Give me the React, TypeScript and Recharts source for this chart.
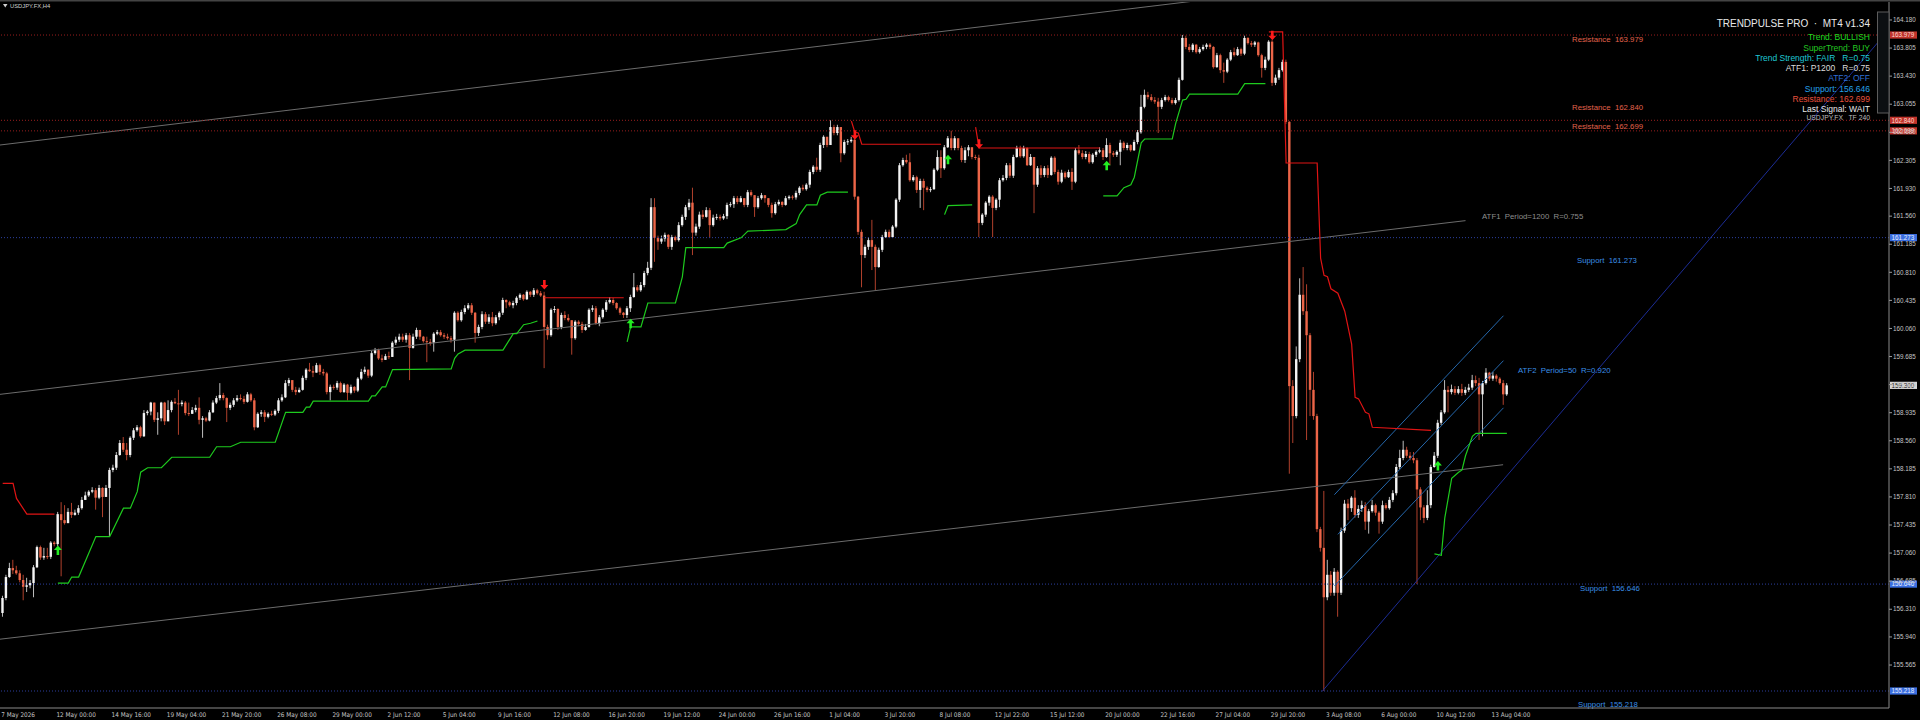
import React from 'react';
import { ComposedChart, Bar, Line, XAxis, YAxis, ReferenceLine, Scatter } from 'recharts';

// ---------------- DATA ----------------
const OPEN0 = 156.26;

const closes = [
156.46,156.74,156.86,156.83,156.79,156.70,156.61,156.63,156.66,156.87,
157.14,157.00,157.02,157.01,157.20,157.18,157.58,157.50,157.46,157.61,
157.57,157.60,157.66,157.77,157.83,157.88,157.90,157.80,157.93,157.81,
157.93,158.17,158.20,158.37,158.53,158.44,158.37,158.60,158.70,158.74,
158.62,158.93,158.95,159.07,158.84,158.86,159.07,158.82,158.97,159.08,
159.06,159.05,159.07,158.93,158.92,158.97,159.00,158.84,158.86,158.83,
158.94,159.07,159.13,159.17,159.13,159.00,159.04,159.10,159.13,159.12,
159.08,159.18,159.10,
158.74,158.92,158.94,158.88,158.92,158.91,158.96,159.10,159.14,159.33,
159.37,159.24,159.21,159.24,159.40,159.51,159.49,159.47,159.57,159.48,
159.46,159.21,159.28,159.27,159.33,159.21,159.31,159.20,159.28,159.23,
159.39,159.48,159.51,159.43,159.73,159.77,159.66,159.64,159.69,159.68,
159.87,159.91,159.95,159.91,159.97,159.80,159.95,160.04,159.95,159.89,
159.88,159.87,159.99,160.01,159.97,159.95,159.93,159.91,160.27,160.17,
160.28,160.33,160.37,160.27,160.00,160.08,160.25,160.15,160.21,160.13,
160.21,160.27,160.44,
160.41,160.37,160.40,160.47,160.51,160.45,160.55,160.51,160.57,160.53,
160.50,160.08,159.97,160.31,160.32,160.08,160.24,160.20,160.17,159.93,
160.15,160.12,160.04,160.08,160.31,160.33,160.13,160.21,160.31,160.41,
160.44,160.40,160.33,160.27,160.24,160.33,160.48,160.61,160.57,160.64,
160.80,160.87,161.68,161.27,161.22,161.26,161.31,161.15,161.28,161.24,
161.44,161.55,161.68,161.74,161.34,161.42,161.58,161.55,161.64,161.44,
161.54,161.55,161.53,161.56,161.71,161.72,161.80,161.75,161.80,161.71,
161.88,161.84,161.68,161.80,161.84,
161.80,161.71,161.60,161.72,161.75,161.71,161.80,161.82,161.81,161.87,
161.94,161.92,161.98,162.15,162.22,162.18,162.51,162.62,162.51,162.75,
162.67,162.75,162.40,162.55,162.56,162.58,161.82,161.35,161.04,161.15,
161.24,161.15,160.88,161.11,161.28,161.35,161.28,161.42,161.78,162.24,
162.31,162.28,162.04,162.08,161.91,162.03,161.94,161.91,161.92,162.18,
162.35,162.20,162.48,162.60,162.47,162.60,162.47,162.31,162.44,162.48,
162.35,162.34,161.47,161.58,161.74,161.82,161.67,161.78,162.04,162.07,
162.24,162.10,162.35,
162.47,162.36,162.47,162.24,162.35,161.98,162.20,162.11,162.20,162.11,
162.34,162.15,162.02,162.14,162.08,162.15,162.02,162.44,162.40,162.35,
162.39,162.28,162.38,162.42,162.44,162.35,162.51,162.40,162.38,162.42,
162.54,162.47,162.51,162.44,162.55,162.68,163.02,163.18,163.15,163.11,
163.09,163.02,163.11,163.15,163.11,163.07,163.11,163.38,163.94,163.82,
163.78,163.85,163.75,163.79,163.82,163.85,163.82,163.55,163.71,163.51,
163.49,163.65,163.75,163.71,163.79,163.73,163.94,163.87,163.85,163.88,
163.71,163.54,163.65,163.89,163.34,163.41,163.51,163.62,162.82,159.29,
158.89,159.65,160.51,160.29,159.97,159.24,158.89,157.38,157.13,156.47,
156.77,156.53,156.81,156.53,157.36,157.72,157.66,157.80,157.57,157.65,
157.70,157.48,157.62,157.70,157.60,157.48,157.70,157.66,157.77,157.86,
158.21,158.33,158.44,158.36,158.33,158.30,157.91,157.67,157.53,157.70,
158.21,158.36,158.80,158.94,159.24,159.21,159.25,159.20,159.25,159.20,
159.24,159.27,159.37,159.33,159.18,159.33,159.47,159.39,159.43,159.39,
159.33,159.18,159.30
];

const highs = [
156.49,156.77,156.93,156.97,156.89,156.83,156.77,156.73,156.70,156.90,
157.16,157.16,157.13,157.13,157.22,157.22,157.61,157.74,157.70,157.66,
157.73,157.64,157.70,157.81,157.88,157.90,157.94,157.93,157.97,157.94,
157.97,158.20,158.24,158.41,158.57,158.61,158.53,158.62,158.73,158.77,
158.76,158.97,158.97,159.08,159.04,158.94,159.08,159.08,159.10,159.10,
159.13,159.24,159.10,159.09,159.07,159.01,159.04,159.14,158.89,158.88,
158.97,159.10,159.16,159.33,159.20,159.14,159.07,159.13,159.17,159.18,
159.16,159.21,159.20,
159.13,158.94,158.97,158.97,158.94,158.96,158.98,159.13,159.18,159.37,
159.40,159.37,159.28,159.27,159.43,159.53,159.60,159.56,159.60,159.59,
159.52,159.48,159.31,159.31,159.36,159.35,159.33,159.32,159.31,159.29,
159.41,159.52,159.55,159.51,159.76,159.80,159.79,159.71,159.72,159.75,
159.89,159.95,159.99,159.99,160.00,160.00,159.99,160.07,160.04,159.96,
159.95,159.92,160.01,160.04,160.04,160.00,159.99,159.96,160.29,160.29,
160.31,160.37,160.40,160.40,160.28,160.11,160.29,160.28,160.25,160.28,
160.24,160.29,160.47,
160.45,160.43,160.43,160.49,160.53,160.52,160.57,160.56,160.60,160.59,
160.56,160.55,160.11,160.33,160.36,160.33,160.27,160.29,160.25,160.16,
160.17,160.17,160.15,160.12,160.33,160.37,160.36,160.24,160.33,160.44,
160.48,160.47,160.41,160.35,160.28,160.36,160.51,160.80,160.64,160.68,
160.83,160.95,161.80,161.80,161.30,161.30,161.34,161.32,161.31,161.30,
161.48,161.58,161.71,161.79,161.94,161.46,161.62,161.64,161.68,161.67,
161.58,161.59,161.58,161.59,161.74,161.75,161.83,161.83,161.83,161.80,
161.91,161.91,161.84,161.83,161.87,
161.83,161.80,161.74,161.75,161.78,161.76,161.83,161.84,161.84,161.90,
161.96,161.98,162.00,162.18,162.24,162.34,162.54,162.64,162.62,162.84,
162.78,162.78,162.75,162.58,162.59,162.62,162.59,161.83,161.38,161.18,
161.28,161.51,161.18,161.14,161.31,161.38,161.38,161.44,161.80,162.27,
162.34,162.38,162.40,162.11,162.10,162.06,162.06,161.96,161.95,162.20,
162.44,162.44,162.51,162.63,162.70,162.63,162.60,162.50,162.48,162.51,
162.44,162.38,162.38,161.60,161.76,161.84,161.84,161.80,162.07,162.11,
162.27,162.27,162.38,
162.50,162.50,162.50,162.48,162.39,162.31,162.23,162.24,162.23,162.24,
162.36,162.36,162.18,162.18,162.16,162.18,162.20,162.47,162.51,162.44,
162.43,162.42,162.40,162.44,162.48,162.47,162.60,162.54,162.43,162.44,
162.58,162.56,162.54,162.52,162.58,162.71,163.18,163.25,163.22,163.19,
163.15,163.14,163.14,163.18,163.17,163.14,163.14,163.41,163.98,163.97,
163.86,163.87,163.86,163.82,163.85,163.87,163.87,163.83,163.74,163.73,
163.61,163.67,163.78,163.81,163.82,163.81,163.97,163.95,163.90,163.90,
163.89,163.73,163.69,163.91,163.91,163.45,163.54,163.65,163.65,162.83,
159.37,159.82,160.73,160.88,160.65,160.00,159.48,158.92,157.41,157.89,
156.97,156.82,156.86,156.83,157.40,157.77,157.78,157.82,157.90,157.70,
157.76,157.74,157.65,157.77,157.72,157.62,157.76,157.73,157.81,157.90,
158.25,158.44,158.56,158.48,158.41,158.41,158.33,157.94,157.70,157.90,
158.24,158.41,158.84,158.97,159.37,159.29,159.31,159.29,159.29,159.32,
159.28,159.32,159.44,159.43,159.40,159.36,159.53,159.48,159.48,159.45,
159.41,159.37,159.33
];

const lows = [
156.21,156.43,156.73,156.78,156.77,156.67,156.43,156.54,156.59,156.47,
156.86,156.97,156.97,156.98,156.98,157.15,157.15,156.75,157.44,157.48,
157.53,157.56,157.57,157.64,157.77,157.81,157.86,157.64,157.78,157.54,
157.82,157.28,158.14,158.17,158.36,158.41,158.30,158.34,158.57,158.68,
158.60,158.61,158.90,158.90,158.81,158.64,158.82,158.77,158.84,158.94,
159.05,158.64,159.02,158.90,158.89,158.92,158.94,158.78,158.60,158.81,
158.82,158.93,159.05,159.10,159.10,158.81,158.97,159.01,159.08,159.10,
159.05,159.07,159.08,
158.70,158.73,158.88,158.81,158.86,158.89,158.89,158.93,159.08,159.13,
159.29,159.21,159.17,159.20,159.23,159.37,159.48,159.41,159.47,159.44,
159.43,159.18,159.10,159.24,159.24,159.20,159.20,159.10,159.18,159.20,
159.21,159.37,159.45,159.40,159.41,159.71,159.64,159.61,159.65,159.65,
159.68,159.84,159.88,159.88,159.87,159.37,159.79,159.92,159.91,159.87,
159.61,159.83,159.75,159.97,159.95,159.92,159.91,159.87,159.75,160.15,
160.15,160.25,160.31,160.24,159.87,159.96,160.05,160.12,160.12,160.09,
160.11,160.17,160.24,
160.33,160.35,160.33,160.37,160.44,160.43,160.44,160.48,160.48,160.51,
160.48,159.53,159.91,159.95,160.27,160.04,160.05,160.17,160.15,159.71,
159.91,160.09,160.00,160.03,160.07,160.28,160.11,160.09,160.19,160.28,
160.39,160.37,160.31,160.24,160.20,160.20,160.28,160.47,160.55,160.55,
160.61,160.77,160.84,160.95,161.11,161.19,161.22,161.12,161.11,161.22,
161.22,161.42,161.51,161.64,161.04,161.30,161.39,161.52,161.54,161.27,
161.42,161.51,161.50,161.51,161.52,161.68,161.67,161.72,161.74,161.68,
161.68,161.82,161.55,161.66,161.78,
161.74,161.68,161.54,161.58,161.70,161.68,161.70,161.78,161.78,161.78,
161.84,161.90,161.90,161.94,162.12,162.15,162.15,162.47,162.48,162.58,
162.64,162.64,162.28,162.38,162.51,162.54,161.78,161.31,160.61,161.00,
161.11,160.84,160.57,160.87,161.08,161.27,161.27,161.27,161.40,161.75,
162.22,162.26,162.02,162.02,161.87,161.67,161.64,161.88,161.88,161.91,
162.16,162.07,162.18,162.47,162.44,162.44,162.44,162.28,162.27,162.36,
162.32,162.31,161.28,161.44,161.55,161.70,161.28,161.64,161.68,162.02,
162.04,162.07,162.07,
162.34,162.34,162.34,162.23,162.23,161.60,161.95,162.07,162.08,162.07,
162.10,162.12,161.98,162.00,162.06,162.07,161.91,162.00,162.38,162.32,
162.32,162.26,162.26,162.35,162.40,162.31,162.34,162.24,162.35,162.35,
162.24,162.44,162.44,162.42,162.43,162.52,162.66,163.00,163.12,163.09,
163.06,162.67,162.99,163.09,163.09,163.05,163.05,163.09,163.37,163.79,
163.75,163.75,163.73,163.73,163.77,163.79,163.79,163.53,163.54,163.47,
163.34,163.47,163.63,163.69,163.70,163.70,163.71,163.85,163.82,163.82,
163.69,163.41,163.51,163.63,163.30,163.31,163.38,163.49,162.79,158.12,
158.53,158.86,159.61,160.24,158.57,158.89,158.84,157.34,157.08,155.218,
156.43,156.49,156.49,156.21,156.50,157.33,157.50,157.61,157.53,157.53,
157.61,157.37,157.32,157.60,157.56,157.32,157.45,157.64,157.64,157.74,
157.83,158.18,158.30,158.33,158.30,158.26,156.646,157.50,157.46,157.50,
157.66,158.20,158.33,158.77,158.92,158.94,159.18,159.17,159.18,159.16,
159.17,159.21,159.24,159.29,158.57,158.62,159.31,159.36,159.36,159.35,
159.31,159.04,159.16
];

const xLabels = [
'7 May 2026','12 May 00:00','14 May 16:00','19 May 04:00','21 May 20:00','26 May 08:00',
'29 May 00:00','2 Jun 12:00','5 Jun 04:00','9 Jun 16:00','12 Jun 08:00','16 Jun 20:00',
'19 Jun 12:00','24 Jun 00:00','26 Jun 16:00','1 Jul 04:00','3 Jul 20:00','8 Jul 08:00',
'12 Jul 22:00','15 Jul 12:00','20 Jul 00:00','22 Jul 16:00','27 Jul 04:00','29 Jul 20:00',
'3 Aug 08:00','6 Aug 00:00','10 Aug 12:00','13 Aug 04:00'
];
const BARS_PER_LABEL = 16;

const yTicks = [
164.180,163.805,163.430,163.055,162.680,162.305,161.930,161.560,161.185,160.810,160.435,
160.060,159.685,159.310,158.935,158.560,158.185,157.810,157.435,157.060,156.685,156.310,
155.940,155.565
];

// SuperTrend segments [barIndex, price]
const stRed = [
  [[0,157.99],[3,157.99],[4,157.79],[7,157.58],[15,157.58]],
  [[157,160.47],[180,160.47]],
  [[246,162.83],[247,162.68],[248,162.67],[249,162.52],[272,162.52]],
  [[282,162.75],[283,162.47],[318,162.47]],
  [[367,164.02],[371,164.02],[372,162.27],[381,162.27],[382,161.00],[383,160.77],[384,160.75],[385,160.59],[387,160.53],[389,160.29],[391,159.85],[392,159.14],[393,159.12],[395,158.94],[396,158.92],[397,158.74],[414,158.70]],
];
const stGreen = [
  [[16,156.66],[19,156.66],[20,156.74],[22,156.74],[27,157.28],[31,157.28],[35,157.66],[37,157.66],[39,157.88],[40,158.14],[42,158.20],[46,158.20],[49,158.34],[60,158.34],[62,158.48],[66,158.48],[69,158.54],[79,158.54],[82,158.94],[87,158.94],[88,159.01],[89,159.01],[90,159.09],[106,159.09],[107,159.16],[108,159.16],[110,159.28],[111,159.28],[113,159.51],[130,159.52],[131,159.66],[132,159.72],[134,159.77],[145,159.77],[148,159.99],[149,159.99],[151,160.11],[153,160.13],[155,160.16]],
  [[181,159.88],[182,160.08],[185,160.08],[187,160.40],[195,160.40],[197,160.75],[198,161.14],[209,161.14],[210,161.20],[214,161.27],[216,161.36],[227,161.38],[230,161.46],[231,161.58],[233,161.71],[236,161.71],[237,161.84],[239,161.88],[245,161.88]],
  [[273,161.58],[274,161.70],[281,161.71]],
  [[319,161.83],[323,161.83],[325,161.94],[327,161.98],[328,162.08],[330,162.54],[331,162.59],[339,162.59],[340,162.80],[342,163.11],[343,163.12],[344,163.19],[358,163.19],[360,163.33],[366,163.33]],
  [[415,157.05],[417,157.03],[418,157.53],[420,158.06],[422,158.14],[423,158.17],[424,158.36],[426,158.62],[427,158.66],[436,158.66]],
];

const sellSignals = [{ i: 157, p: 160.64 }, { i: 247, p: 162.64 }, { i: 283, p: 162.52 }, { i: 368, p: 163.97 }];
const buySignals = [{ i: 16, p: 157.10 }, { i: 182, p: 160.13 }, { i: 274, p: 162.32 }, { i: 320, p: 162.24 }, { i: 416, p: 158.23 }];

// trend channels [ [i1,p1], [i2,p2] ]
const atf1Lines = [
  [[-0.78, 162.51], [434.9, 164.93]],
  [[-0.78, 159.18], [424.0, 161.50]],
  [[-0.78, 155.91], [434.9, 158.24]],
];
const atf2Lines = [
  [[386, 157.84], [435, 160.23]],
  [[387, 157.31], [435, 159.63]],
  [[386, 156.62], [435, 159.00]],
];
const swingLine = [[382.4, 155.21], [546.7, 164.05]];

const resistanceLevels = [163.979, 162.840, 162.699];
const supportLevels = [161.273, 156.646, 155.218];
const lastPrice = 159.300;

// ---------------- LAYOUT / STYLE ----------------
const W = 1920, H = 720;
const BAR_PX = 3.45, FIRST_PX = 2.7, PLOT_W = 1889;
const XMIN = -FIRST_PX / BAR_PX;
const XMAX = XMIN + PLOT_W / BAR_PX;
const YMIN = 154.991, YMAX = 164.420;

const FONT = "'Liberation Sans', Arial, Helvetica, sans-serif";
const FONT_N = "'Liberation Sans Narrow', 'Arial Narrow', 'DejaVu Sans Condensed', sans-serif";

const resText = [
  { dx: 1572, dy: 7 },
  { dx: 1572, dy: -10 },
  { dx: 1572, dy: -2 },
];
const supText = [
  { dx: 1577, dy: 25 },
  { dx: 1580, dy: 7 },
  { dx: 1578, dy: 16 },
];

const bars = closes.map((c, i) => {
  const o = i === 0 ? OPEN0 : closes[i - 1];
  const h = Math.max(highs[i], o, c);
  const l = Math.min(lows[i], o, c);
  return { i, o, h, l, c, range: [l, h] };
});

const toPts = (a: number[][]) => a.map(([i, p]) => ({ i, p }));

const Candle = (props: any) => {
  const { x, y, width, height, payload } = props;
  if (!payload || x == null) return null;
  const { o, h, l, c } = payload;
  const top = Math.min(y, y + height);
  const bot = Math.max(y, y + height);
  const span = h - l;
  const k = span > 0 ? (bot - top) / span : 0;
  const yo = top + (h - o) * k;
  const yc = top + (h - c) * k;
  const cx = x + width / 2;
  const up = c >= o;
  const bt = Math.min(yo, yc);
  const bh = Math.max(Math.abs(yc - yo), 1);
  return (
    <g>
      <line x1={cx} x2={cx} y1={top} y2={bot} stroke={up ? '#bdbdbd' : '#b0402c'} strokeWidth={1} />
      <rect x={cx - 1.2} y={bt} width={2.4} height={bh} fill={up ? '#f4f4f4' : '#ec6548'} />
    </g>
  );
};

const DownArrow = (props: any) => {
  const { cx, cy } = props;
  if (cx == null) return null;
  const d = `M${cx - 1.3},${cy - 5} L${cx + 1.3},${cy - 5} L${cx + 1.3},${cy} L${cx + 4},${cy} L${cx},${cy + 4.5} L${cx - 4},${cy} L${cx - 1.3},${cy} Z`;
  return <path d={d} fill="#ff1a1a" />;
};
const UpArrow = (props: any) => {
  const { cx, cy } = props;
  if (cx == null) return null;
  const d = `M${cx - 1.3},${cy + 5} L${cx + 1.3},${cy + 5} L${cx + 1.3},${cy} L${cx + 4},${cy} L${cx},${cy - 4.5} L${cx - 4},${cy} L${cx - 1.3},${cy} Z`;
  return <path d={d} fill="#22ee22" />;
};

const XTick = (props: any) => {
  const { x, y, payload } = props;
  const k = Math.round(payload.value / BARS_PER_LABEL);
  return (
    <text x={x - 1.5} y={y + 8.5} fill="#c4c4c4" fontSize={6.4} fontFamily={FONT_N} textAnchor="start">
      {xLabels[k]}
    </text>
  );
};

const YTick = (props: any) => {
  const { x, y, payload } = props;
  return (
    <text x={x} y={y + 2.2} fill="#c4c4c4" fontSize={6.3} fontFamily={FONT} textAnchor="start">
      {payload.value.toFixed(3)}
    </text>
  );
};

const LevelLabel = (props: any) => {
  const { viewBox, value, boxFill, boxText, text, textColor, dx, dy } = props;
  if (!viewBox) return null;
  const y = viewBox.y;
  const right = viewBox.x + viewBox.width;
  return (
    <g>
      {text ? (
        <text x={viewBox.x + dx} y={y + dy} fill={textColor} fontSize={7.8} fontFamily={FONT} style={{ whiteSpace: 'pre' }}>
          {text}
        </text>
      ) : null}
      <rect x={right + 1} y={y - 3.6} width={27} height={7.2} fill={boxFill} />
      <text x={right + 2.6} y={y + 2.3} fill={boxText} fontSize={6.3} fontFamily={FONT}>
        {value.toFixed(3)}
      </text>
    </g>
  );
};

const panelLines = [
  { t: 'Trend: BULLISH', c: '#1fdc1f', y: 40 },
  { t: 'SuperTrend: BUY', c: '#22c722', y: 51 },
  { t: 'Trend Strength: FAIR   R=0.75', c: '#1fc8d4', y: 61 },
  { t: 'ATF1: P1200   R=0.75', c: '#dcdcdc', y: 71 },
  { t: 'ATF2: OFF', c: '#2f6fd6', y: 81 },
  { t: 'Support: 156.646', c: '#25a0ea', y: 92 },
  { t: 'Resistance: 162.699', c: '#e8513c', y: 102 },
  { t: 'Last Signal: WAIT', c: '#eaeaea', y: 112 },
];

export default function App() {
  const xTicks = xLabels.map((_, k) => k * BARS_PER_LABEL);
  return (
    <div style={{ position: 'absolute', left: 0, top: 0, width: W, height: H, background: '#000', overflow: 'hidden' }}>
      <ComposedChart width={W} height={H} data={bars} margin={{ top: 2, right: 0, bottom: 0, left: 0 }}>
        <XAxis
          dataKey="i"
          type="number"
          domain={[XMIN, XMAX]}
          allowDataOverflow
          ticks={xTicks}
          interval={0}
          height={12}
          tickSize={0}
          tickMargin={0}
          tickLine={false}
          axisLine={{ stroke: '#8a8a8a' }}
          tick={<XTick />}
        />
        <YAxis
          orientation="right"
          type="number"
          domain={[YMIN, YMAX]}
          allowDataOverflow
          ticks={yTicks}
          interval={0}
          width={31}
          tickSize={3}
          tickMargin={1}
          tickLine={{ stroke: '#9a9a9a' }}
          axisLine={{ stroke: '#8a8a8a' }}
          tick={<YTick />}
        />

        {atf1Lines.map((s, k) => (
          <ReferenceLine key={'a1' + k} segment={[{ x: s[0][0], y: s[0][1] }, { x: s[1][0], y: s[1][1] }]} stroke="#6c6c6c" strokeWidth={1} ifOverflow="hidden" />
        ))}
        {atf2Lines.map((s, k) => (
          <ReferenceLine key={'a2' + k} segment={[{ x: s[0][0], y: s[0][1] }, { x: s[1][0], y: s[1][1] }]} stroke="#2466aa" strokeWidth={1} ifOverflow="hidden" />
        ))}
        <ReferenceLine segment={[{ x: swingLine[0][0], y: swingLine[0][1] }, { x: swingLine[1][0], y: swingLine[1][1] }]} stroke="#1c2c95" strokeWidth={1} ifOverflow="hidden" />

        {resistanceLevels.map((v, k) => (
          <ReferenceLine
            key={'r' + k}
            y={v}
            stroke="#9a1e1e"
            strokeDasharray="1 2"
            label={<LevelLabel value={v} boxFill="#c0332b" boxText="#ffd6d0" text={'Resistance\u00a0\u00a0' + v.toFixed(3)} textColor="#e2634c" dx={resText[k].dx} dy={resText[k].dy} />}
          />
        ))}
        {supportLevels.map((v, k) => (
          <ReferenceLine
            key={'s' + k}
            y={v}
            stroke="#2c3f9e"
            strokeDasharray="1 2"
            label={<LevelLabel value={v} boxFill="#3a6ee0" boxText="#e4edff" text={'Support\u00a0\u00a0' + v.toFixed(3)} textColor="#3a8fe6" dx={supText[k].dx} dy={supText[k].dy} />}
          />
        ))}
        <ReferenceLine y={lastPrice} stroke="none" label={<LevelLabel value={lastPrice} boxFill="#d6d6d6" boxText="#202020" />} />

        {stRed.map((s, k) => (
          <Line key={'sr' + k} data={toPts(s)} dataKey="p" type="linear" stroke="#e01414" strokeWidth={1.2} dot={false} isAnimationActive={false} />
        ))}
        {stGreen.map((s, k) => (
          <Line key={'sg' + k} data={toPts(s)} dataKey="p" type="linear" stroke="#1ecb1e" strokeWidth={1.2} dot={false} isAnimationActive={false} />
        ))}

        <Bar dataKey="range" barSize={3} shape={Candle} isAnimationActive={false} />

        <Scatter data={sellSignals} dataKey="p" shape={DownArrow} isAnimationActive={false} />
        <Scatter data={buySignals} dataKey="p" shape={UpArrow} isAnimationActive={false} />
      </ComposedChart>

      <svg width={W} height={H} style={{ position: 'absolute', left: 0, top: 0, pointerEvents: 'none' }}>
        <rect x={0} y={0} width={W} height={1.5} fill="#444" />
        <path d="M3,4 L7.5,4 L5.25,7.5 Z" fill="#d0d0d0" />
        <text x={10} y={8} fill="#cfcfcf" fontSize={5.8} fontFamily={FONT}>USDJPY.FX,H4</text>

        <rect x={1877.5} y={12} width={11.5} height={101} fill="#0c0f12" stroke="#5c5c5c" strokeWidth={1} />
        <text x={1870} y={26.6} fill="#e8e8e8" fontSize={10} fontFamily={FONT} textAnchor="end" style={{ whiteSpace: 'pre' }}>
          {'TRENDPULSE PRO  \u00b7  MT4 v1.34'}
        </text>
        {panelLines.map((l, k) => (
          <text key={k} x={1870} y={l.y} fill={l.c} fontSize={8.5} fontFamily={FONT} textAnchor="end" style={{ whiteSpace: 'pre' }}>
            {l.t}
          </text>
        ))}
        <text x={1870} y={119.5} fill="#bdbdbd" fontSize={6.8} fontFamily={FONT} textAnchor="end" style={{ whiteSpace: 'pre' }}>
          {'USDJPY.FX   TF 240'}
        </text>

        <text x={1482} y={218.5} fill="#8e8e8e" fontSize={7.8} fontFamily={FONT} style={{ whiteSpace: 'pre' }}>
          {'ATF1  Period=1200  R=0.755'}
        </text>
        <text x={1518} y={373} fill="#3a8fe6" fontSize={7.8} fontFamily={FONT} style={{ whiteSpace: 'pre' }}>
          {'ATF2  Period=50  R=0.920'}
        </text>
      </svg>
    </div>
  );
}
